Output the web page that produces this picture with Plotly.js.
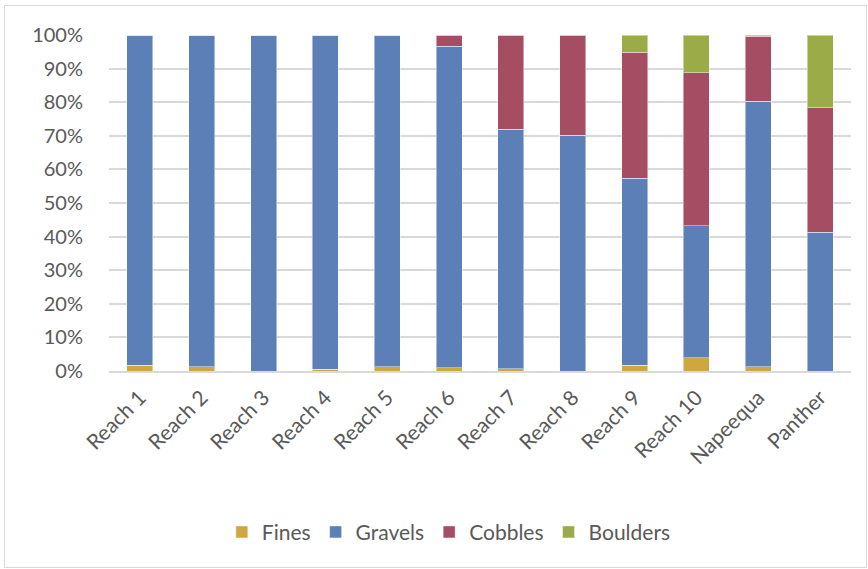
<!DOCTYPE html>
<html>
<head>
<meta charset="utf-8">
<script src="https://cdn.plot.ly/plotly-3.0.1.min.js"></script>
<style>
  html, body { margin: 0; padding: 0; background: #fff; }
  #wrap { position: relative; width: 868px; height: 569px; }
  #chart { width: 868px; height: 569px; }
  #frame { position: absolute; left: 4px; top: 5px; width: 861px; height: 561px; border: 1px solid #d9d9d9; pointer-events: none; }
</style>
</head>
<body>
<div id="wrap"><div id="chart"></div><div id="frame"></div></div>
<script>
const categories = ["Reach 1", "Reach 2", "Reach 3", "Reach 4", "Reach 5", "Reach 6", "Reach 7", "Reach 8", "Reach 9", "Reach 10", "Napeequa", "Panther"];
const fines    = [1.7, 1.3, 0,   0.5, 1.3, 0.9,  0.6,  0,    1.7,  4.0,  1.3,  0];
const gravels  = [98.3, 98.7, 100, 99.5, 98.7, 95.8, 71.3, 70.2, 55.6, 39.2, 79.0, 41.3];
const cobbles  = [0,   0,   0,   0,   0,   3.3,  28.1, 29.8, 37.5, 45.5, 19.4, 37.1];
const boulders = [0,   0,   0,   0,   0,   0,    0,    0,    5.2,  11.3, 0.3,  21.6];
const yTicks = [0, 10, 20, 30, 40, 50, 60, 70, 80, 90, 100];

const seriesNames = ["Fines", "Gravels", "Cobbles", "Boulders"];
const seriesData = [fines, gravels, cobbles, boulders];
const colors = ["#CFA73F", "#5B7FB6", "#A54D62", "#9BAB47"];

const traces = seriesData.map((vals, i) => ({
  type: "bar",
  name: seriesNames[i],
  x: categories,
  y: vals,
  marker: { color: colors[i], line: { color: "rgba(255,255,255,0.45)", width: 1 } },
  hoverinfo: "x+y+name"
}));

const font = "Lato, 'Open Sans', 'Liberation Sans', sans-serif";

const layout = {
  width: 868,
  height: 569,
  barmode: "stack",
  barnorm: "percent",
  bargap: 0.58,
  paper_bgcolor: "#ffffff",
  plot_bgcolor: "#ffffff",
  margin: { l: 109, r: 17, t: 35, b: 198 },
  font: { family: font, size: 20, color: "#595959" },
  showlegend: true,
  legend: {
    orientation: "h",
    x: 0.458, xanchor: "center",
    y: -0.48, yanchor: "middle",
    font: { family: font, size: 21, color: "#595959" },
    traceorder: "normal",
    itemwidth: 30
  },
  xaxis: {
    type: "category",
    tickangle: -45,
    showgrid: false,
    showline: true,
    linecolor: "#d9d9d9",
    linewidth: 2,
    ticks: "",
    ticklabelstandoff: 4,
    tickfont: { family: font, size: 21, color: "#595959" },
    zeroline: false
  },
  yaxis: {
    range: [0, 100],
    tickvals: yTicks,
    ticktext: yTicks.map(v => v + "%"),
    showgrid: true,
    gridcolor: "#d9d9d9",
    gridwidth: 2,
    zeroline: false,
    showline: false,
    ticks: "",
    ticklabelstandoff: 25,
    tickfont: { family: font, size: 20, color: "#595959" }
  }
};

Plotly.newPlot("chart", traces, layout, { displayModeBar: false, staticPlot: true });
</script>
</body>
</html>
